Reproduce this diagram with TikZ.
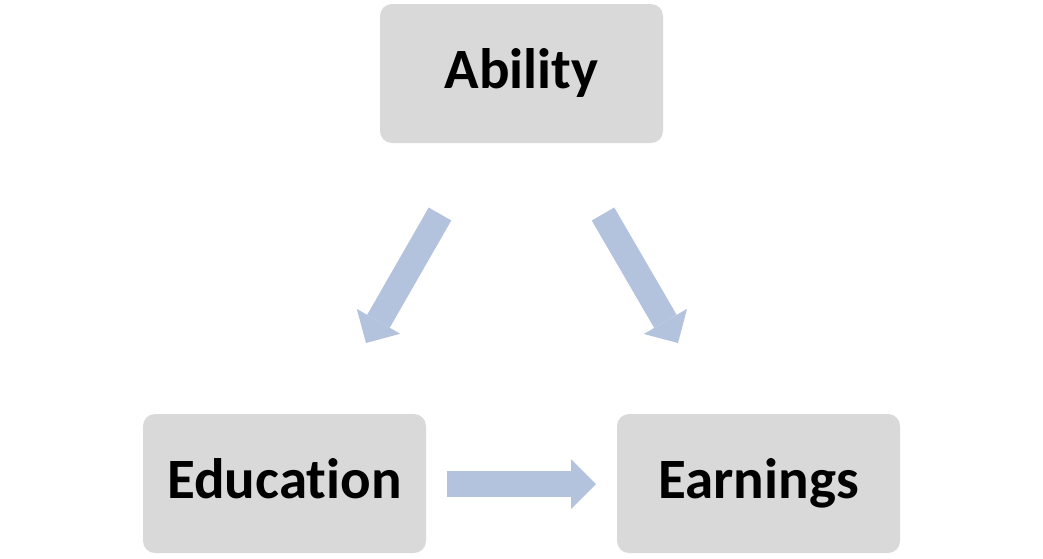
\documentclass[tikz,border=0pt]{standalone}
\usepackage{fontspec}
\setmainfont[Ligatures=NoCommon]{Carlito}
\usetikzlibrary{arrows.meta}
\definecolor{boxgray}{HTML}{D9D9D9}
\definecolor{arrowblue}{HTML}{B3C3DE}
\tikzset{
  varbox/.style={fill=boxgray, draw=none, rounded corners=12pt,
    minimum width=283pt, minimum height=139pt, inner sep=0pt,
    text height=40pt, text depth=11pt,
    font=\fontsize{57}{61}\selectfont\bfseries, text=black},
  blockarrow/.style={draw=arrowblue, line width=26pt, line cap=butt,
    -{Triangle[width=50pt,length=25pt,line width=0pt]}}
}
\begin{document}
\begin{tikzpicture}[x=1pt,y=-1pt]
\useasboundingbox (0,0) rectangle (1043,558);
\node[varbox] (ability) at (521.5,73.5) {Ability};
\node[varbox] (education) at (284.5,483.5) {Education};
\node[varbox] (earnings) at (758.5,483.5) {Earnings};
\coordinate (a1s) at (440,214);
\coordinate (a1e) at (366,343);
\coordinate (a2s) at (603,214);
\coordinate (a2e) at (678,343);
\coordinate (a3s) at (447,484);
\coordinate (a3e) at (596,484);
\draw[blockarrow] (a1s) -- (a1e);
\draw[blockarrow] (a2s) -- (a2e);
\draw[blockarrow] (a3s) -- (a3e);
\end{tikzpicture}
\end{document}
